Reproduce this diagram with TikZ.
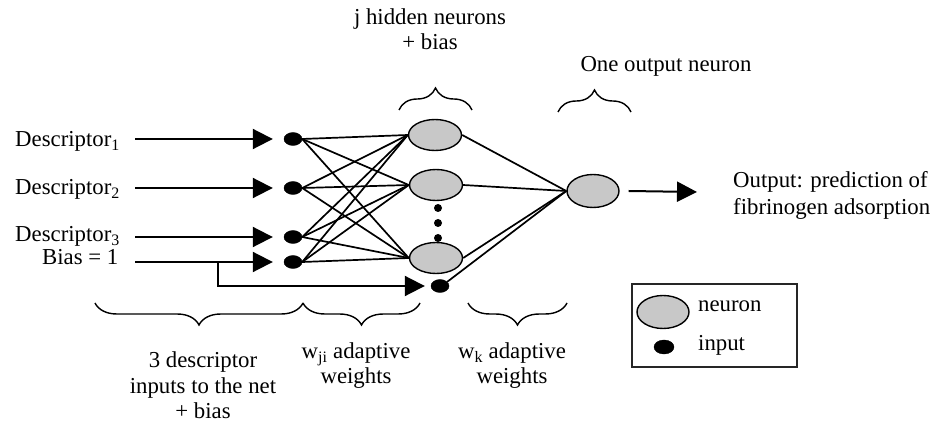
\documentclass[tikz,border=0pt]{standalone}
\usepackage{fontspec}
\setmainfont{Liberation Serif}
\usetikzlibrary{arrows.meta,shapes.geometric,decorations.pathreplacing}
\definecolor{neurongray}{RGB}{200,200,200}
\begin{document}
\begin{tikzpicture}[x=1pt,y=-1pt,
  txt/.style={font=\fontsize{22.8}{27}\selectfont, inner sep=0pt},
  inputdot/.style={ellipse, fill=black, draw=black, minimum width=18pt, minimum height=13pt, inner sep=0pt},
  neuron/.style={ellipse, fill=neurongray, draw=black, line width=1.4pt, minimum width=53pt, minimum height=31pt, inner sep=0pt},
  feed/.style={line width=2pt, -{Triangle[length=20pt,width=20pt]}},
  wire/.style={line width=1.7pt},
  bracket/.style={decorate, decoration={brace, amplitude=22pt}, line width=1.4pt},
  smalldot/.style={circle, fill=black, minimum size=8pt, inner sep=0pt},
]
\useasboundingbox (0,0) rectangle (938,422);

% descriptor labels
\node[txt, anchor=base west] (d1) at (15,147) {Descriptor\textsubscript{1}};
\node[txt, anchor=base west] (d2) at (15,195) {Descriptor\textsubscript{2}};
\node[txt, anchor=base west] (d3) at (15,242) {Descriptor\textsubscript{3}};
\node[txt, anchor=base west] (bl) at (42,265) {Bias = 1};

% input layer
\node[inputdot] (i1) at (293,139) {};
\node[inputdot] (i2) at (293,188) {};
\node[inputdot] (i3) at (293,237) {};
\node[inputdot] (i4) at (293,262) {};
\node[inputdot] (b) at (440,286) {};

% hidden layer
\node[neuron] (h1) at (435,135) {};
\node[neuron] (h2) at (436,185) {};
\node[neuron] (h3) at (436,258) {};
\node[smalldot] (e1) at (438,208) {};
\node[smalldot] (e2) at (438,223) {};
\node[smalldot] (e3) at (438,238) {};

% output layer
\node[neuron, minimum height=33pt, minimum width=52pt] (o) at (593,191) {};
\coordinate (otip) at (697,192);

% feeding arrows
\draw[feed, shorten >=11pt] ([xshift=15pt]d1.east |- i1.west) -- (i1.west);
\draw[feed, shorten >=11pt] ([xshift=15pt]d2.east |- i2.west) -- (i2.west);
\draw[feed, shorten >=11pt] ([xshift=15pt]d1.east |- i3.west) -- (i3.west);
\draw[feed, shorten >=11pt] ([xshift=15pt]d1.east |- i4.west) -- (i4.west);
\coordinate (bj) at (218,262);
\draw[feed, shorten >=6pt] (bj) |- (b.west);

% weights input -> hidden
\foreach \i in {i1,i2,i3,i4}
  \foreach \h in {h1,h2,h3}
    \draw[wire] (\i.east) -- (\h.west);

% weights hidden -> output
\foreach \h in {h1,h2,h3}
  \draw[wire] (\h.east) -- (o.west);
\draw[wire] (b.30) -- (o.west);

% output arrow and text
\draw[feed] ([xshift=9pt]o.east) -- (otip);
\node[txt, anchor=base west] (out1) at (733,188) {Output: prediction of};
\node[txt, anchor=base west] (out2) at (733,215) {fibrinogen adsorption};

% top labels and braces
\node[txt, anchor=base] (top1) at (430,25) {j hidden neurons};
\node[txt, anchor=base] (top2) at (430,50) {+ bias};
\draw[bracket] (399,110) -- (472,110);
\node[txt, anchor=base] (top3) at (666,72) {One output neuron};
\draw[bracket] (558,112) -- (631,112);

% bottom braces and labels
\draw[bracket] (303,303) -- (95,303);
\draw[bracket] (420,303) -- (303,303);
\draw[bracket] (567,303) -- (468,303);
\node[txt, anchor=base] (bt1) at (203,367) {3 descriptor};
\node[txt, anchor=base] (bt2) at (203,393) {inputs to the net};
\node[txt, anchor=base] (bt3) at (203,418) {+ bias};
\node[txt, anchor=base] (bw1) at (356,359) {w\textsubscript{ji} adaptive};
\node[txt, anchor=base] (bw2) at (356,384) {weights};
\node[txt, anchor=base] (bk1) at (512,359) {w\textsubscript{k} adaptive};
\node[txt, anchor=base] (bk2) at (512,384) {weights};

% legend
\node[draw=black!85, line width=1.6pt, minimum width=165pt, minimum height=83pt, inner sep=0pt] (legend) at (714.5,325.5) {};
\node[neuron, minimum height=33pt, minimum width=52pt] (ln) at (663,312) {};
\node[inputdot, minimum width=20pt, minimum height=14pt] (li) at (664,347) {};
\node[txt, anchor=base west] (lnt) at (698,312) {neuron};
\node[txt, anchor=base west] (lit) at (698,351) {input};
\end{tikzpicture}
\end{document}
